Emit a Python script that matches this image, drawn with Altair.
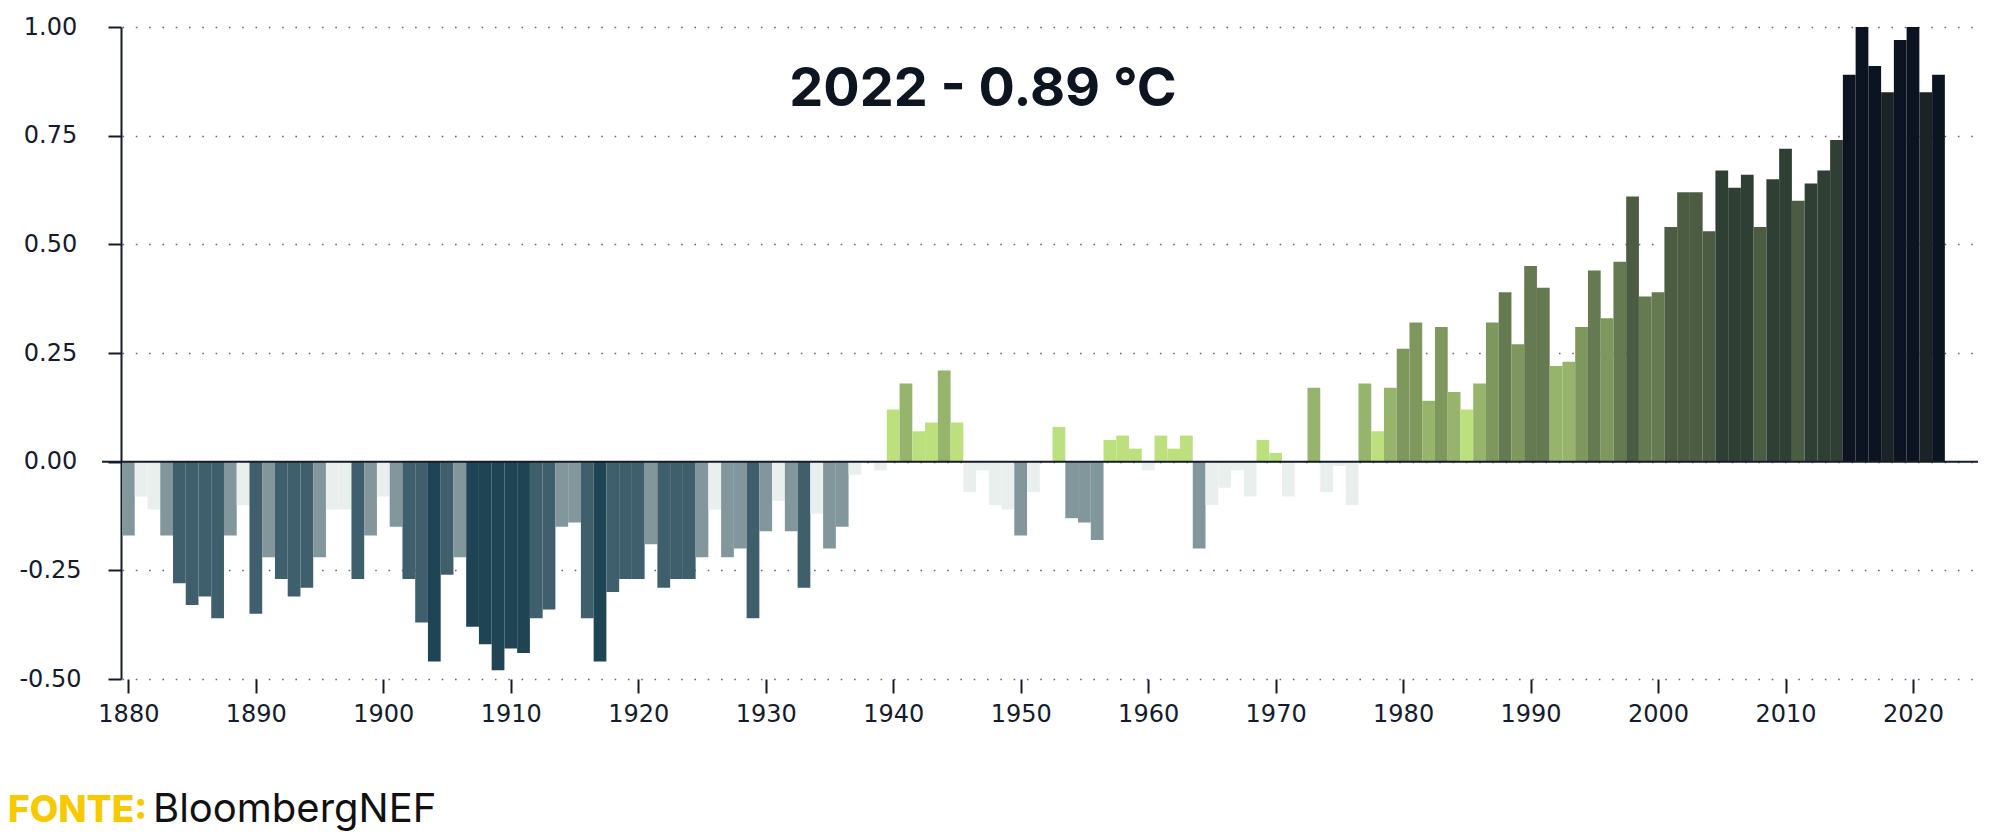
import altair as alt
import pandas as pd

# ---------------- data ----------------
years = list(range(1880, 2023))
anomalies = [
    -0.17, -0.08, -0.11, -0.17, -0.28, -0.33, -0.31, -0.36, -0.17, -0.10,  # 1880s
    -0.35, -0.22, -0.27, -0.31, -0.29, -0.22, -0.11, -0.11, -0.27, -0.17,  # 1890s
    -0.08, -0.15, -0.27, -0.37, -0.46, -0.26, -0.22, -0.38, -0.42, -0.48,  # 1900s
    -0.43, -0.44, -0.36, -0.34, -0.15, -0.14, -0.36, -0.46, -0.30, -0.27,  # 1910s
    -0.27, -0.19, -0.29, -0.27, -0.27, -0.22, -0.11, -0.22, -0.20, -0.36,  # 1920s
    -0.16, -0.09, -0.16, -0.29, -0.12, -0.20, -0.15, -0.03, 0.00, -0.02,   # 1930s
    0.12, 0.18, 0.07, 0.09, 0.21, 0.09, -0.07, -0.02, -0.10, -0.11,        # 1940s
    -0.17, -0.07, 0.00, 0.08, -0.13, -0.14, -0.18, 0.05, 0.06, 0.03,       # 1950s
    -0.02, 0.06, 0.03, 0.06, -0.20, -0.10, -0.06, -0.02, -0.08, 0.05,      # 1960s
    0.02, -0.08, 0.00, 0.17, -0.07, -0.01, -0.10, 0.18, 0.07, 0.17,        # 1970s
    0.26, 0.32, 0.14, 0.31, 0.16, 0.12, 0.18, 0.32, 0.39, 0.27,            # 1980s
    0.45, 0.40, 0.22, 0.23, 0.31, 0.44, 0.33, 0.46, 0.61, 0.38,            # 1990s
    0.39, 0.54, 0.62, 0.62, 0.53, 0.67, 0.63, 0.66, 0.54, 0.65,            # 2000s
    0.72, 0.60, 0.64, 0.67, 0.74, 0.89, 1.00, 0.91, 0.85, 0.97,            # 2010s
    1.00, 0.85, 0.89,                                                      # 2020s
]
x_ticks = list(range(1880, 2021, 10))
y_ticks = [-0.5, -0.25, 0.0, 0.25, 0.5, 0.75, 1.0]
thresholds = [-0.375, -0.25, -0.125, 0.0, 0.125, 0.25, 0.375, 0.5, 0.625, 0.75, 0.875]
palette = [
    "#1f4453", "#3e5f6b", "#82979c", "#e9efec",
    "#bde07f", "#97b46c", "#7e975d", "#657a50",
    "#4b5c43", "#303f34", "#1b2328", "#0d1421",
]
baseline_value = [0.0]
title_text = ["2022 - 0.89 °C"]
source_label = ["FONTE:"]
source_name = ["BloombergNEF"]

# ---------------- chart ----------------
W, H = 1856, 652
FONT = "Inter"
TICK_FONT = "DejaVu Sans"
INK = "#141c2b"

df = pd.DataFrame({"year": years, "anomaly": anomalies})

bars = (
    alt.Chart(df)
    .transform_calculate(x0="datum.year - 0.5", x1="datum.year + 0.5")
    .mark_bar()
    .encode(
        x=alt.X(
            "x0:Q",
            scale=alt.Scale(domain=[1879.5, 2025.1], nice=False, zero=False),
            axis=alt.Axis(
                values=x_ticks, format="d", title=None, domain=False, grid=False,
                ticks=True, tickSize=14, tickWidth=2, tickColor=INK,
                labelFont=TICK_FONT, labelFontSize=24, labelColor=INK,
                labelPadding=9, labelFlush=False,
            ),
        ),
        x2="x1:Q",
        y=alt.Y(
            "anomaly:Q",
            scale=alt.Scale(domain=[-0.5, 1.0], nice=False),
            axis=alt.Axis(
                values=y_ticks, title=None,
                labelExpr="(datum.value < 0 ? '-' : '') + format(abs(datum.value), '.2f')",
                domain=True, domainColor=INK, domainWidth=2, offset=1,
                ticks=True, tickSize=13, tickWidth=2, tickColor=INK,
                labelFont=TICK_FONT, labelFontSize=24, labelColor=INK,
                labelAlign="center", labelPadding=58,
                grid=True, gridDash=[1.6, 11.7], gridColor="#666666", gridWidth=1.6,
            ),
        ),
        y2=alt.datum(0),
        color=alt.Color(
            "anomaly:Q",
            scale=alt.Scale(type="threshold", domain=thresholds, range=palette),
            legend=None,
        ),
    )
)

zero_rule = (
    alt.Chart(pd.DataFrame({"base": baseline_value}))
    .mark_rule(color=INK, strokeWidth=2)
    .encode(y=alt.Y("base:Q"), x=alt.value(-20), x2=alt.value(W))
)

title = (
    alt.Chart(pd.DataFrame({"t": title_text}))
    .mark_text(font=FONT, fontSize=54, fontWeight=700, color="#0d1520",
               align="center", baseline="alphabetic")
    .encode(text="t:N", x=alt.value(861), y=alt.value(79))
)

src_a = (
    alt.Chart(pd.DataFrame({"t": source_label}))
    .mark_text(font=FONT, fontSize=37, fontWeight=800, color="#f6c900",
               align="left", baseline="alphabetic")
    .encode(text="t:N", x=alt.value(-114), y=alt.value(795))
)

src_b = (
    alt.Chart(pd.DataFrame({"t": source_name}))
    .mark_text(font=FONT, fontSize=40, fontWeight=400, color="#111111",
               align="left", baseline="alphabetic")
    .encode(text="t:N", x=alt.value(31), y=alt.value(795))
)

chart = (
    alt.layer(bars, zero_rule, title, src_a, src_b)
    .properties(
        width=W, height=H,
        autosize=alt.AutoSizeParams(type="none"),
        padding={"left": 114, "top": 19, "right": 10, "bottom": 155},
        background="white",
    )
    .configure_view(stroke=None)
)

chart.save("out.html", embed_options={"renderer": "svg", "actions": False})
